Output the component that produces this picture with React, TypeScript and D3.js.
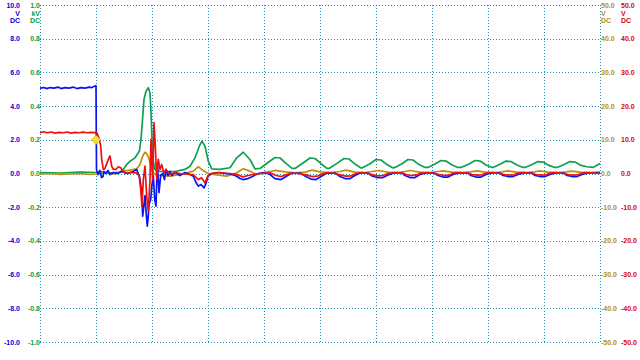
import React from 'react';
import * as d3 from 'd3';

const W = 640;
const H = 360;

// time in samples (56 samples per division, 10 divisions)
const timeGrid = [0, 56, 112, 168, 224, 280, 336, 392, 448, 504, 560];
const blueTicks = [10, 8, 6, 4, 2, 0, -2, -4, -6, -8, -10];
const greenTicks = [1.0, 0.8, 0.6, 0.4, 0.2, 0.0, -0.2, -0.4, -0.6, -0.8, -1.0];
const goldTicks = [50, 40, 30, 20, 10, 0, -10, -20, -30, -40, -50];
const redTicks = [50, 40, 30, 20, 10, 0, -10, -20, -30, -40, -50];
const blueUnits = ['V', 'DC'];
const greenUnits = ['kV', 'DC'];
const goldUnits = ['V', 'DC'];
const redUnits = ['V', 'DC'];

const triggerTime = 56;
const triggerLevel = 2.0;

// Blue channel (V)
const blueData: [number, number][] = [
  [0, 5.07], [4, 5.1], [7, 5.04], [10, 5.1], [14, 5.07], [18, 5.13], [21, 5.04], [25, 5.1], [29, 5.07],
  [33, 5.13], [37, 5.04], [41, 5.1], [45, 5.07], [49, 5.13], [52, 5.1], [55, 5.2], [56, 5.2], [56.5, 0.24],
  [58, -0.06], [60, 0.18],
  [61.5, -0.24], [63, -0.18], [64, 0.12], [66, 0], [68, 0.18], [70, -0.06], [73, 0.06], [77, 0], [82, 0.12],
  [88, 0], [93, 0.12], [96.7, 0.24], [99, -0.12], [100, -0.36], [101.7, -1.13], [102.7, -2.53], [104, -1.84],
  [105, -1.31], [106, -2.24], [107.3, -3.13], [108, -2.73], [109, -1.84], [110.7, -1.54], [112, -0.65],
  [113.3, -0.16], [114.7, -1.54], [116, -1.94], [117.3, 0.65], [118, -0.06], [119, -1.13], [120.7, -0.12],
  [122.7, 0], [124.5, -0.36], [126, 0.24], [128, -0.12], [130, 0.12], [132, -0.12], [135, 0.06], [140, -0.12],
  [145, 0.06], [150, -0.06], [153.3, -0.16], [156, -0.53], [158.3, -0.75], [161, -0.65], [164, -0.85],
  [166, -0.59], [168, -0.16], [171.7, 0], [178, 0.06], [185, 0], [192, -0.06], [196.7, -0.16], [200, -0.30],
  [203, -0.36], [208, -0.30], [213, -0.16], [218, 0], [225, 0.06],
  [230, -0.06], [235, -0.30], [241, -0.36], [246, -0.18], [251, 0], [260, 0.03],
  [266, -0.18], [271, -0.33], [276, -0.36], [281, -0.18], [286, 0], [295, 0.03],
  [300, -0.18], [305, -0.30], [310, -0.30], [315, -0.12], [320, 0.03], [328, 0.03],
  [332, -0.15], [337, -0.24], [343, -0.24], [348, -0.09], [354, 0.03], [362, 0.03],
  [365, -0.12], [370, -0.24], [375, -0.24], [380, -0.06], [386, 0.03], [394, 0.03],
  [398, -0.12], [403, -0.21], [408, -0.21], [413, -0.06], [419, 0.03], [428, 0.03],
  [431, -0.12], [436, -0.21], [441, -0.21], [446, -0.06], [452, 0.03], [460, 0.03],
  [463, -0.12], [468, -0.18], [473, -0.18], [478, -0.06], [484, 0.03], [492, 0.03],
  [495, -0.12], [500, -0.18], [505, -0.18], [510, -0.06], [516, 0.03], [524, 0.03],
  [527, -0.12], [532, -0.18], [537, -0.18], [542, -0.06], [548, 0.03], [560, 0.03],
];

// Green channel (kV)
const greenData: [number, number][] = [
  [0, 0.006], [20, 0.003], [40, 0.008], [56, 0.006], [60, 0.012], [70, 0.003], [80, 0.009],
  [83.3, 0.024], [86.7, 0.053], [90, 0.073], [95, 0.093], [99.3, 0.132], [101, 0.202], [102.3, 0.301],
  [104, 0.439], [106, 0.488], [108.3, 0.509], [110, 0.479], [111, 0.362], [112, 0.202], [113.3, 0.073],
  [115, 0.024], [120, 0.012], [135, 0.012], [145, 0.024], [150, 0.043], [155, 0.093], [159.3, 0.162],
  [162, 0.192], [165, 0.162], [168.3, 0.073], [171.7, 0.028], [180, 0.024], [190, 0.034], [196.7, 0.093],
  [203.3, 0.126], [210, 0.083], [215, 0.028],
  [220, 0.030], [228, 0.065], [235, 0.095], [240, 0.092], [246, 0.060], [252, 0.030],
  [255, 0.030], [263, 0.062], [270, 0.092], [275, 0.089], [281, 0.058], [287, 0.030],
  [289, 0.030], [297, 0.060], [304, 0.089], [309, 0.086], [315, 0.056], [321, 0.033],
  [322, 0.033], [330, 0.058], [336, 0.083], [341, 0.080], [347, 0.053], [353, 0.033],
  [355, 0.036], [362, 0.058], [368, 0.083], [373, 0.080], [379, 0.053], [385, 0.036],
  [388, 0.036], [395, 0.056], [401, 0.077], [406, 0.074], [412, 0.050], [418, 0.036],
  [421, 0.036], [429, 0.056], [435, 0.077], [440, 0.074], [446, 0.050], [452, 0.036],
  [453, 0.036], [460, 0.055], [466, 0.074], [471, 0.071], [477, 0.050], [483, 0.036],
  [485, 0.036], [492, 0.053], [498, 0.071], [503, 0.068], [509, 0.048], [515, 0.036],
  [517, 0.036], [524, 0.053], [530, 0.071], [535, 0.068], [541, 0.048], [547, 0.040],
  [553, 0.036], [560, 0.059],
];

// Red channel (V)
const redData: [number, number][] = [
  [0, 12.1], [4, 12.4], [7, 12.1], [11, 12.3], [15, 12.0], [19, 12.2], [23, 12.1], [27, 12.3], [31, 12.0],
  [35, 12.2], [39, 12.1], [43, 12.3], [47, 12.1], [51, 12.2], [56.7, 12.1], [59, 10.6], [60.7, 8.2],
  [61.7, 4.2], [63.3, 1.2], [65, 1.5],
  [68.3, 4.2], [70, 5.2], [71.7, 2.2], [73.3, 1.2], [76, 1.2], [78.3, 2.0], [80.7, 1.7], [85, 0], [90, 0.3],
  [96.7, 0.2], [99.3, -0.8], [100.7, -4.8], [102, -9.7], [103.3, -1.8], [105, 2.2], [106.7, -6.8],
  [108.3, -11.2], [110, -1.8], [111, 10.1], [112.7, -1.8], [114, 15.1], [115.3, 8.2], [116.7, -1.8],
  [118.3, 4.2], [120, 1.2], [121.7, 2.7], [124, 0], [126, 1.2], [130, -0.3], [135, 0.3], [140, 0],
  [150, -0.3], [153.3, -0.3], [158.3, -1.8], [161.7, -1.3], [165, -2.8], [168, -0.6], [172, 0], [180, 0.3],
  [190, 0], [196.7, -0.3], [203, -1.0], [208, -0.6], [213, -0.3], [220, 0],
  [230, 0.2], [236, -0.6], [241, -0.9], [246, -0.4], [252, 0.2], [258, 0],
  [266, -0.4], [272, -0.9], [277, -0.8], [282, -0.2], [288, 0.3], [295, 0],
  [300, -0.4], [306, -0.8], [311, -0.7], [316, 0], [322, 0.3], [328, 0],
  [333, -0.4], [338, -0.7], [343, -0.6], [348, 0], [355, 0.3], [362, 0.2],
  [366, -0.3], [371, -0.6], [376, -0.5], [381, 0.1], [388, 0.3], [395, 0],
  [399, -0.3], [404, -0.6], [409, -0.5], [414, 0.2], [420, 0.3], [428, 0.1],
  [432, -0.3], [437, -0.5], [442, -0.4], [447, 0.2], [453, 0.3], [460, 0],
  [464, -0.3], [469, -0.5], [474, -0.4], [479, 0.2], [485, 0.3], [492, 0],
  [496, -0.3], [501, -0.5], [506, -0.4], [511, 0.2], [517, 0.3], [524, 0],
  [528, -0.3], [533, -0.5], [538, -0.4], [543, 0.2], [549, 0.3], [560, 0],
];

// Gold channel (V)
const goldData: [number, number][] = [
  [0, -0.15], [10, 0], [20, -0.3], [30, -0.15], [40, 0], [50, -0.3], [56, -0.15], [65, 0.15], [75, -0.15],
  [83.3, 0.7], [90, 1.0], [96.7, 1.4], [100, 2.7], [102.7, 5.2], [105, 6.3], [106.7, 5.9], [108.7, 4.7],
  [110.7, 2.2], [112.7, 0.4], [115, -0.3], [120, -0.6], [130, -0.8], [140, -0.3], [153.3, 0.7], [158.3, 2.0],
  [161.7, 1.2], [166.7, 0.2], [173.3, -0.3], [186.7, -0.8], [196.7, 0.2], [203.3, 1.4], [210, 0.7],
  [216.7, -0.3], [225, 0.3], [235, 0.9], [245, 0.5], [255, 0.2], [265, 0.4], [272, 1.0], [280, 0.5],
  [290, 0.3], [300, 0.6], [306, 1.0], [315, 0.4], [325, 0.3], [332, 0.6], [338, 0.9], [348, 0.4], [358, 0.3],
  [365, 0.6], [370, 0.9], [380, 0.4], [390, 0.3], [398, 0.6], [403, 0.8], [412, 0.4], [422, 0.3], [430, 0.5],
  [437, 0.8], [445, 0.4], [455, 0.3], [462, 0.5], [468, 0.8], [476, 0.4], [486, 0.3], [494, 0.5], [500, 0.8],
  [508, 0.4], [518, 0.3], [526, 0.5], [532, 0.7], [540, 0.4], [550, 0.3], [560, 0.5],
];

const C = {
  blue: '#0c14f0',
  green: '#10a050',
  red: '#f01010',
  gold: '#c0900c',
  blueText: '#0000e0',
  greenText: '#00a050',
  goldText: '#b89000',
  redText: '#e00000',
  grid: '#1a90b4',
};

const fmt = (v: number) => v.toFixed(1);

export default function App() {
  const x = d3.scaleLinear().domain([0, 560]).range([40, 600]);
  const yBlue = d3.scaleLinear().domain([-10, 10]).range([342, 5]);
  const yGreen = d3.scaleLinear().domain([-1, 1]).range([342, 5]);
  const yGold = d3.scaleLinear().domain([-50, 50]).range([342, 5]);
  const yRed = d3.scaleLinear().domain([-50, 50]).range([342, 5]);

  const mk = (ys: d3.ScaleLinear<number, number>) =>
    d3.line<[number, number]>().x(d => x(d[0])).y(d => ys(d[1]));

  const px = (v: number) => Math.round(v) + 0.5;
  const font = { fontFamily: 'Liberation Sans', fontWeight: 700, fontSize: 7 } as const;

  const tx = x(triggerTime);
  const ty = yBlue(triggerLevel);

  return (
    <svg width={W} height={H} style={{ position: 'absolute', left: 0, top: 0, background: '#fff' }}>
      {/* grid */}
      <g stroke={C.grid} strokeWidth={1} strokeDasharray="1,2" shapeRendering="crispEdges">
        {blueTicks.map((t, i) => (
          <line key={'h' + i} x1={x(0)} x2={x(560)} y1={px(yBlue(t))} y2={px(yBlue(t))} />
        ))}
        {timeGrid.map((t, i) => (
          <line key={'v' + i} x1={px(x(t))} x2={px(x(t))} y1={yBlue(10)} y2={yBlue(-10)} />
        ))}
      </g>

      {/* traces */}
      <g fill="none" strokeWidth={1.7} strokeLinejoin="round">
        <path d={mk(yGreen)(greenData) || ''} stroke={C.green} />
        <path d={mk(yGold)(goldData) || ''} stroke={C.gold} />
        <path d={mk(yBlue)(blueData) || ''} stroke={C.blue} />
        <path d={mk(yRed)(redData) || ''} stroke={C.red} />
      </g>

      {/* trigger marker */}
      <path d={`M${tx},${ty - 4.5}L${tx + 4.5},${ty}L${tx},${ty + 4.5}L${tx - 4.5},${ty}Z`} fill="#f8e030" stroke="#d8b800" strokeWidth={0.8} />

      {/* axis labels */}
      <g style={font} dominantBaseline="central">
        {blueTicks.map((t, i) => (
          <text key={'bl' + i} x={20} y={yBlue(t)} textAnchor="end" fill={C.blueText}>{fmt(t)}</text>
        ))}
        {greenTicks.map((t, i) => (
          <text key={'gl' + i} x={40} y={yGreen(t)} textAnchor="end" fill={C.greenText}>{fmt(t)}</text>
        ))}
        {goldTicks.map((t, i) => (
          <text key={'yl' + i} x={601} y={yGold(t)} textAnchor="start" fill={C.goldText}>{fmt(t)}</text>
        ))}
        {redTicks.map((t, i) => (
          <text key={'rl' + i} x={621} y={yRed(t)} textAnchor="start" fill={C.redText}>{fmt(t)}</text>
        ))}
        {blueUnits.map((u, i) => (
          <text key={'bu' + i} x={20} y={13 + i * 7.5} textAnchor="end" fill={C.blueText}>{u}</text>
        ))}
        {greenUnits.map((u, i) => (
          <text key={'gu' + i} x={40} y={13 + i * 7.5} textAnchor="end" fill={C.greenText}>{u}</text>
        ))}
        {goldUnits.map((u, i) => (
          <text key={'yu' + i} x={601} y={13 + i * 7.5} textAnchor="start" fill={C.goldText}>{u}</text>
        ))}
        {redUnits.map((u, i) => (
          <text key={'ru' + i} x={621} y={13 + i * 7.5} textAnchor="start" fill={C.redText}>{u}</text>
        ))}
      </g>
    </svg>
  );
}
